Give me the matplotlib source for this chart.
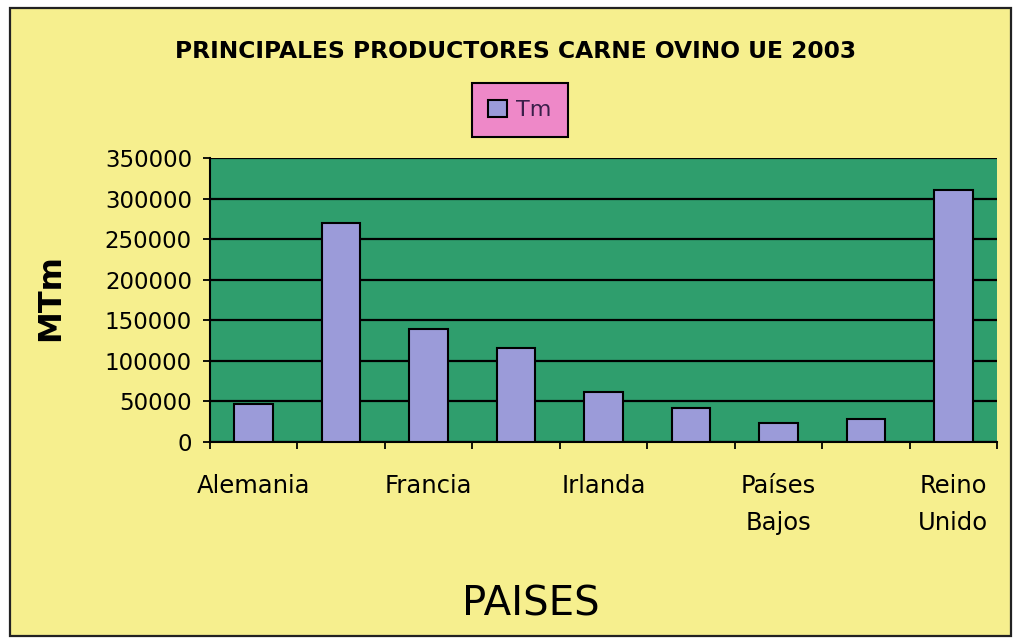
import matplotlib
matplotlib.use("Agg")
import matplotlib.pyplot as plt
from matplotlib.patches import Rectangle
from matplotlib.ticker import FixedLocator, NullFormatter

# ---- data ----
categories = ["Alemania", "España", "Francia", "Grecia", "Irlanda", "Italia",
              "Países\nBajos", "Portugal", "Reino\nUnido"]
values = [47000, 270000, 139000, 115500, 62000, 41500, 23800, 28000, 310000]
series_name = "Tm"
yticks = [0, 50000, 100000, 150000, 200000, 250000, 300000, 350000]
title = "PRINCIPALES PRODUCTORES CARNE OVINO UE 2003"
ylabel = "MTm"
xlabel = "PAISES"

# ---- style ----
W, H = 1014, 639
yellow = "#F6EF8E"
green = "#2F9E6D"
bar_col = "#9B9BD9"
pink = "#EE88C8"

plt.rcParams['font.family'] = ['DejaVu Sans']

fig = plt.figure(figsize=(W / 100, H / 100), dpi=100, facecolor="white")

# outer chart area with border
fig.patches.append(Rectangle((10 / W, 1 - 636 / H), (1011 - 10) / W, (636 - 8) / H,
                             transform=fig.transFigure, facecolor=yellow,
                             edgecolor="#222222", linewidth=1.6, zorder=0))

ax = fig.add_axes([210 / W, 1 - 442 / H, 787 / W, 284 / H])
ax.set_facecolor(green)
ax.set_zorder(1)

x = list(range(len(categories)))
ax.bar(x, values, width=0.44, color=bar_col, edgecolor="black", linewidth=1.5,
       label=series_name, zorder=3)

ax.set_xlim(-0.5, len(categories) - 0.5)
ax.set_ylim(0, 350000)
ax.set_yticks(yticks)
ax.set_yticklabels([str(v) for v in yticks])
ax.yaxis.grid(True, color="black", linewidth=1.6, zorder=1)
ax.set_axisbelow(True)

# x labels only every other category
major_pos = [i for i in x if i % 2 == 0]
ax.set_xticks(major_pos)
ax.set_xticklabels([categories[i] for i in major_pos])
ax.xaxis.set_minor_locator(FixedLocator([i - 0.5 for i in range(len(categories) + 1)]))
ax.xaxis.set_minor_formatter(NullFormatter())
ax.tick_params(axis="x", which="major", length=0, pad=23, labelsize=17.5)
ax.tick_params(axis="x", which="minor", length=5, width=1.3, direction="out", color="black")
ax.tick_params(axis="y", length=5, width=1.3, direction="out", pad=8, labelsize=16.5)
for lab in ax.get_xticklabels():
    lab.set_linespacing(1.7)
    lab.set_verticalalignment("top")

for s in ["top", "right"]:
    ax.spines[s].set_visible(False)
for s in ["left", "bottom"]:
    ax.spines[s].set_color("black")
    ax.spines[s].set_linewidth(1.5)

ax.set_ylabel(ylabel, fontsize=23, fontweight="bold")
ax.yaxis.set_label_coords((66 - 210) / 787, 0.51)

fig.text(516 / W, 1 - 52 / H, title, ha="center", va="center",
         fontsize=16.8, fontweight="bold")
fig.text(531 / W, 1 - 605 / H, xlabel, ha="center", va="center", fontsize=29)

leg = fig.legend(loc="center", bbox_to_anchor=(520 / W, 1 - 110 / H),
                 fontsize=16, frameon=True, fancybox=False, facecolor=pink,
                 edgecolor="black", handlelength=0.85, handleheight=0.85,
                 handletextpad=0.4, borderpad=0.75, borderaxespad=0)
leg.get_frame().set_linewidth(1.5)
leg.get_frame().set_alpha(1)
for t in leg.get_texts():
    t.set_color("#3a1f4a")

fig.savefig("out.png", dpi=100, facecolor="white")
